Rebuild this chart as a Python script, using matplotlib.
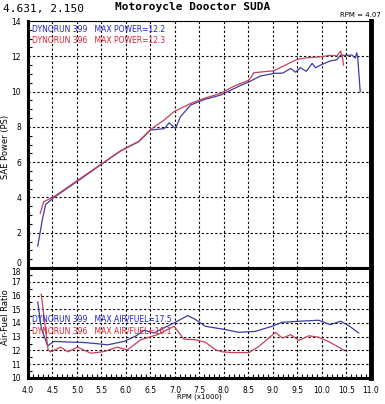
import numpy as np
import matplotlib.pyplot as plt
from matplotlib.ticker import MultipleLocator

# power runs (rpm x1000, PS)
rpm_399 = [4.20, 4.29, 4.36, 4.53, 5.00, 5.51, 5.89, 6.26, 6.50, 6.78, 6.88, 7.01, 7.11, 7.32,
           7.60, 7.93, 8.34, 8.51, 8.74, 9.02, 9.20, 9.36, 9.46, 9.56, 9.68, 9.80, 9.87, 9.97,
           10.17, 10.30, 10.38, 10.50, 10.61, 10.68, 10.71, 10.73, 10.78]
pw_399 = [1.25, 2.70, 3.60, 4.00, 4.90, 5.90, 6.63, 7.16, 7.82, 7.90, 8.23, 7.91, 8.57, 9.24,
          9.55, 9.80, 10.35, 10.55, 10.88, 11.03, 11.05, 11.31, 11.10, 11.35, 11.15, 11.60, 11.35, 11.50,
          11.74, 11.80, 12.07, 12.05, 12.07, 11.90, 12.20, 11.90, 9.99]

rpm_396 = [4.25, 4.32, 4.53, 5.00, 5.51, 5.89, 6.26, 6.50, 6.78, 6.98, 7.32, 7.60, 7.93,
           8.20, 8.51, 8.61, 9.02, 9.25, 9.49, 9.70, 9.97, 10.15, 10.31, 10.38, 10.42, 10.44]
pw_396 = [3.10, 3.76, 4.04, 4.95, 5.92, 6.65, 7.18, 7.85, 8.39, 8.86, 9.33, 9.62, 9.90,
          10.30, 10.65, 11.07, 11.18, 11.50, 11.82, 11.92, 11.97, 12.05, 12.03, 12.30, 11.90, 11.50]

# air-fuel runs
afr_rpm_399 = [4.20, 4.27, 4.40, 4.53, 4.80, 5.14, 5.40, 5.62, 5.96, 6.20, 6.37, 6.57, 6.77, 6.98,
               7.26, 7.42, 7.62, 8.03, 8.30, 8.64, 8.98, 9.19, 9.50, 9.93, 10.17, 10.38, 10.55, 10.75]
afr_399 = [15.52, 13.64, 12.34, 12.66, 12.62, 12.58, 12.50, 12.41, 12.66, 13.05, 13.47, 13.27, 13.64, 14.00,
           14.54, 14.25, 13.76, 13.52, 13.32, 13.39, 13.76, 14.05, 14.12, 14.20, 13.88, 14.13, 13.80, 13.27]

afr_rpm_396 = [4.27, 4.41, 4.46, 4.67, 4.81, 5.01, 5.28, 5.55, 5.82, 6.03, 6.30, 6.64, 6.98, 7.18,
               7.42, 7.62, 7.83, 7.97, 8.17, 8.51, 8.71, 9.05, 9.19, 9.36, 9.53, 9.73, 9.93, 10.13,
               10.34, 10.44]
afr_396 = [16.09, 12.04, 11.90, 12.24, 11.90, 12.24, 11.80, 11.92, 12.24, 12.04, 12.78, 13.15, 13.76, 12.83,
           12.78, 12.60, 12.04, 11.90, 11.85, 11.85, 12.29, 13.32, 12.90, 13.15, 12.73, 13.07, 12.97, 12.66,
           12.24, 12.04]

x_ticks = [4.0, 4.5, 5.0, 5.5, 6.0, 6.5, 7.0, 7.5, 8.0, 8.5, 9.0, 9.5, 10.0, 10.5, 11.0]

blue = '#3c3ca0'
red = '#c8405a'
txt_blue = '#2020d0'
txt_red = '#e02030'

plt.rcParams['font.family'] = ['Liberation Sans Narrow', 'DejaVu Sans']

fig = plt.figure(figsize=(3.85, 4.04), dpi=100)
ax1 = fig.add_axes([0.0727, 0.3366, 0.8909, 0.6114])
ax2 = fig.add_axes([0.0727, 0.0644, 0.8909, 0.2722])

ax1.plot(rpm_399, pw_399, color=blue, lw=0.9)
ax1.plot(rpm_396, pw_396, color=red, lw=0.9)
ax2.plot(afr_rpm_399, afr_399, color=blue, lw=0.9)
ax2.plot(afr_rpm_396, afr_396, color=red, lw=0.9)

for ax in (ax1, ax2):
    ax.set_xlim(4.0, 11.0)
    ax.set_xticks(x_ticks)
    ax.grid(True, color='black', linestyle=(0, (2, 2)), lw=0.8)
    ax.tick_params(which='both', direction='in', labelsize=5.5, width=0.8)
    ax.tick_params(which='major', length=0)
    ax.tick_params(which='minor', length=3)
    for s in ax.spines.values():
        s.set_linewidth(2.2)

ax1.set_ylim(0, 14)
ax1.set_yticks(range(0, 15, 2))
ax1.yaxis.set_minor_locator(MultipleLocator(0.5))
ax1.tick_params(axis='x', labelbottom=False)
ax1.tick_params(axis='y', pad=5)
ax1.spines['top'].set_linewidth(0.8)
ax1.spines['right'].set_linewidth(3.5)
ax1.set_ylabel('SAE Power (PS)', fontsize=6)
ax1.yaxis.set_label_coords(-0.052, 0.49)

ax2.set_ylim(10, 18)
ax2.set_yticks(range(10, 19))
ax2.yaxis.set_minor_locator(MultipleLocator(0.5))
ax2.xaxis.set_minor_locator(MultipleLocator(0.1))
ax2.spines['right'].set_linewidth(3.5)
ax2.set_xticklabels(['%.1f' % v for v in x_ticks])
ax2.tick_params(axis='x', pad=6)
ax2.tick_params(axis='y', pad=5)
ax2.set_ylabel('Air-Fuel Ratio', fontsize=6)
ax2.yaxis.set_label_coords(-0.052, 0.55)
ax2.set_xlabel('RPM (x1000)', fontsize=5, labelpad=-1)

# the "0" and "18" labels meet at the shared border: push them apart a little
fig.canvas.draw()
ax1.get_yticklabels()[0].set_va('bottom')
ax2.get_yticklabels()[-1].set_va('top')

ax1.text(0.012, 0.965, 'DYNORUN 399   MAX POWER=12.2', transform=ax1.transAxes,
         color=txt_blue, fontsize=5.5, va='center')
ax1.text(0.012, 0.92, 'DYNORUN 396   MAX POWER=12.3', transform=ax1.transAxes,
         color=txt_red, fontsize=5.5, va='center')
ax2.text(0.012, 0.54, 'DYNORUN 399   MAX AIR/FUEL=17.5', transform=ax2.transAxes,
         color=txt_blue, fontsize=5.5, va='center')
ax2.text(0.012, 0.43, 'DYNORUN 396   MAX AIR/FUEL=16.1', transform=ax2.transAxes,
         color=txt_red, fontsize=5.5, va='center')

fig.text(0.5, 0.982, 'Motoroycle Dooctor SUDA', ha='center', va='center',
         fontsize=8, fontweight='bold', family=['DejaVu Sans Mono', 'DejaVu Sans'])
fig.text(0.008, 0.978, '4.631, 2.150', ha='left', va='center', fontsize=8,
         family=['DejaVu Sans Mono', 'DejaVu Sans'])
fig.text(0.99, 0.962, 'RPM = 4.07', ha='right', va='center', fontsize=5)

fig.savefig('out.png', dpi=100)
